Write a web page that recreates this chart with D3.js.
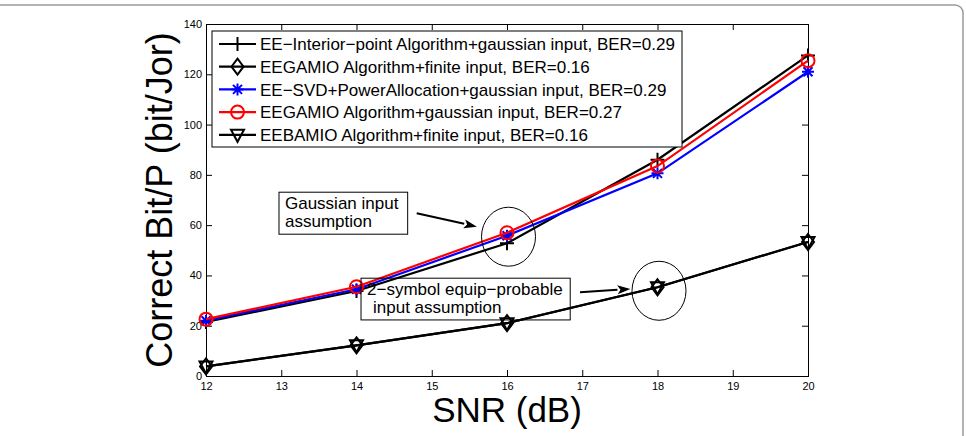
<!DOCTYPE html>
<html>
<head>
<meta charset="utf-8">
<script src="https://cdnjs.cloudflare.com/ajax/libs/d3/7.8.5/d3.min.js"></script>
<style>
  body { margin: 0; background: #fff; }
  svg { display: block; font-family: "Liberation Sans", Arial, sans-serif; }
</style>
</head>
<body>
<div id="chart"></div>
<script>
// data
const snr = [12, 14, 16, 18, 20];
const interiorGauss = [21.5, 33.8, 52.8, 86, 127.5];
const gamioFinite = [3.8, 12.2, 21, 35.3, 53.3];
const svdGauss = [22, 34.5, 55.8, 80.6, 121];
const gamioGauss = [22.6, 35.5, 57, 83.5, 125.4];
const bamioFinite = [3.8, 12.2, 21, 35.3, 53.3];

const xTicks = [12, 13, 14, 15, 16, 17, 18, 19, 20];
const yTicks = [0, 20, 40, 60, 80, 100, 120, 140];

const seriesNames = [
  "EE\u2212Interior\u2212point Algorithm+gaussian input, BER=0.29",
  "EEGAMIO Algorithm+finite input, BER=0.16",
  "EE\u2212SVD+PowerAllocation+gaussian input, BER=0.29",
  "EEGAMIO Algorithm+gaussian input, BER=0.27",
  "EEBAMIO Algorithm+finite input, BER=0.16"
];

const W = 966, H = 436;
const margin = {top: 24, right: 158, bottom: 60, left: 206};
const width = W - margin.left - margin.right,
      height = H - margin.top - margin.bottom;

const svgRoot = d3.select("#chart").append("svg")
  .attr("width", W)
  .attr("height", H);

// grey figure frame (rounded corner at top right)
svgRoot.append("rect")
  .attr("x", -20).attr("y", 5)
  .attr("width", 983).attr("height", 470)
  .attr("rx", 8)
  .attr("fill", "none")
  .attr("stroke", "#9a9a9a")
  .attr("stroke-width", 1.5);

const svg = svgRoot.append("g")
  .attr("transform", `translate(${margin.left},${margin.top})`);

const x = d3.scaleLinear().domain([12, 20]).range([0, width]);
const y = d3.scaleLinear().domain([0, 140]).range([height, 0]);

// axes, ticks inward like matlab
const styleAxis = g => {
  g.select(".domain").remove();
  g.selectAll(".tick line").attr("stroke", "#000");
  g.selectAll(".tick text").attr("fill", "#000").style("font-size", "11px").style("font-family", "Liberation Sans, Arial, sans-serif");
};

svg.append("g")
  .attr("transform", `translate(0,${height})`)
  .call(d3.axisBottom(x).tickValues(xTicks).tickSize(-6).tickPadding(6).tickFormat(d3.format("d")))
  .call(styleAxis);
svg.append("g")
  .call(d3.axisTop(x).tickValues(xTicks).tickSize(-6).tickFormat(""))
  .call(styleAxis);
svg.append("g")
  .call(d3.axisLeft(y).tickValues(yTicks).tickSize(-6).tickPadding(4).tickFormat(d3.format("d")))
  .call(styleAxis);
svg.append("g")
  .attr("transform", `translate(${width},0)`)
  .call(d3.axisRight(y).tickValues(yTicks).tickSize(-6).tickFormat(""))
  .call(styleAxis);

svg.append("rect")
  .attr("width", width).attr("height", height)
  .attr("fill", "none").attr("stroke", "#000").attr("stroke-width", 1)
  .style("shape-rendering", "crispEdges");

// marker shapes
const markerPath = {
  plus: "M-7,0H7M0,-7V7",
  diamond: "M0,-8L6,0L0,8L-6,0Z",
  star: "M-6,0H6M0,-6V6M-4.5,-4.5L4.5,4.5M-4.5,4.5L4.5,-4.5",
  triangle: "M-6.5,-5H6.5L0,7Z"
};

const series = [
  {name: seriesNames[0], values: interiorGauss, color: "#000", marker: "plus"},
  {name: seriesNames[1], values: gamioFinite, color: "#000", marker: "diamond"},
  {name: seriesNames[2], values: svdGauss, color: "#0000ff", marker: "star"},
  {name: seriesNames[3], values: gamioGauss, color: "#ff0000", marker: "circle"},
  {name: seriesNames[4], values: bamioFinite, color: "#000", marker: "triangle"}
];

const line = d3.line().x(d => x(d[0])).y(d => y(d[1]));

const drawMarker = (g, m, color) => {
  if (m === "circle") {
    g.append("circle").attr("r", 6.5)
      .attr("fill", "none").attr("stroke", color).attr("stroke-width", 2);
  } else {
    g.append("path").attr("d", markerPath[m])
      .attr("fill", "none").attr("stroke", color).attr("stroke-width", 2);
  }
};

series.forEach(s => {
  const pts = snr.map((v, i) => [v, s.values[i]]);
  svg.append("path")
    .datum(pts)
    .attr("d", line)
    .attr("fill", "none")
    .attr("stroke", s.color)
    .attr("stroke-width", 2.2);
  pts.forEach(p => {
    const g = svg.append("g").attr("transform", `translate(${x(p[0])},${y(p[1])})`);
    drawMarker(g, s.marker, s.color);
  });
});

// annotations (data coordinates)
const ellipses = [
  {cx: 16.02, cy: 55.4},
  {cx: 18.02, cy: 33.9}
];
svg.selectAll(".ell")
  .data(ellipses)
  .join("ellipse")
  .attr("cx", d => x(d.cx)).attr("cy", d => y(d.cy))
  .attr("rx", 27).attr("ry", 29.5)
  .attr("fill", "none").attr("stroke", "#000").attr("stroke-width", 1);

const arrows = [
  {x1: 14.8, y1: 64.7, x2: 15.6, y2: 59.4},
  {x1: 16.97, y1: 33.3, x2: 17.64, y2: 34.6}
];
arrows.forEach(a => {
  const x1 = x(a.x1), y1 = y(a.y1), x2 = x(a.x2), y2 = y(a.y2);
  const ang = Math.atan2(y2 - y1, x2 - x1);
  const L = 13, w = 4.5;
  const bx = x2 - L * Math.cos(ang), by = y2 - L * Math.sin(ang);
  svg.append("line")
    .attr("x1", x1).attr("y1", y1).attr("x2", bx).attr("y2", by)
    .attr("stroke", "#000").attr("stroke-width", 2);
  svg.append("path")
    .attr("d", `M${x2},${y2}L${bx - w * Math.sin(ang)},${by + w * Math.cos(ang)}L${bx + 3 * Math.cos(ang)},${by + 3 * Math.sin(ang)}L${bx + w * Math.sin(ang)},${by - w * Math.cos(ang)}Z`)
    .attr("fill", "#000");
});

const notes = [
  {x0: 12.97, y0: 73.1, x1: 14.68, y1: 56.4, lines: ["Gaussian input", "assumption"], indent: [0, 0]},
  {x0: 14.06, y0: 38.9, x1: 16.84, y1: 22.3, lines: ["2\u2212symbol equip\u2212probable", "input assumption"], indent: [0, 6]}
];
notes.forEach(n => {
  svg.append("rect")
    .attr("x", x(n.x0)).attr("y", y(n.y0))
    .attr("width", x(n.x1) - x(n.x0)).attr("height", y(n.y1) - y(n.y0))
    .attr("fill", "none").attr("stroke", "#000").attr("stroke-width", 1);
  n.lines.forEach((t, i) => {
    svg.append("text")
      .attr("x", x(n.x0) + 6 + n.indent[i])
      .attr("y", y(n.y0) + 17 + i * 18)
      .style("font-size", "17px")
      .text(t);
  });
});

// legend
const legend = svg.append("g").attr("transform", "translate(6,7)");
legend.append("rect")
  .attr("width", 470).attr("height", 116)
  .attr("fill", "#fff").attr("stroke", "#000").attr("stroke-width", 1);
series.forEach((s, i) => {
  const row = legend.append("g").attr("transform", `translate(0,${13 + i * 22.7})`);
  row.append("line")
    .attr("x1", 7).attr("x2", 44)
    .attr("stroke", s.color).attr("stroke-width", 2.2);
  const mg = row.append("g").attr("transform", "translate(25.5,0)");
  drawMarker(mg, s.marker, s.color);
  row.append("text")
    .attr("x", 48).attr("dy", "0.36em")
    .style("font-size", "17px")
    .text(s.name);
});

// axis titles
svg.append("text")
  .attr("x", width / 2).attr("y", height + 46)
  .attr("text-anchor", "middle")
  .style("font-size", "35px")
  .text("SNR (dB)");
svg.append("text")
  .attr("transform", `translate(-34,${height / 2}) rotate(-90)`)
  .attr("text-anchor", "middle")
  .style("font-size", "36px")
  .text("Correct Bit/P (bit/Jor)");
</script>
</body>
</html>
